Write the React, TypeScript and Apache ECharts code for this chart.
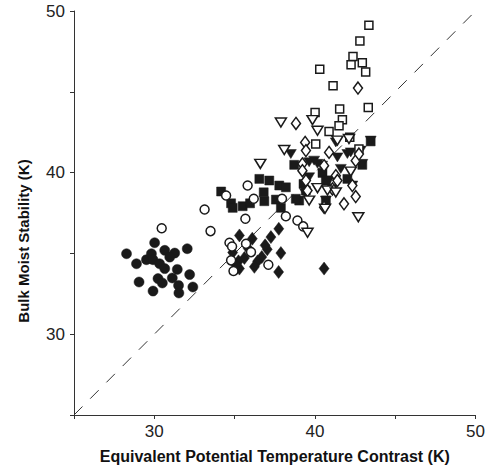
import React, { useEffect, useRef } from "react";
import * as echarts from "echarts";

const filledCircles: [number, number][] = [
  [28.27, 34.98], [30.02, 35.66], [28.89, 34.36], [29.51, 34.61], [29.82, 34.98],
  [29.92, 34.61], [30.65, 35.19], [31.27, 35.02], [30.96, 34.77], [32.05, 35.29],
  [30.33, 34.36], [30.65, 34.06], [31.43, 34.01], [29.05, 33.23], [30.23, 33.44],
  [30.5, 33.17], [31.12, 33.48], [32.2, 33.69], [31.51, 33.02], [31.53, 32.55],
  [32.4, 32.92], [29.92, 32.67],
];

const openCircles: [number, number][] = [
  [30.46, 36.56], [33.13, 37.72], [33.5, 36.38], [34.47, 38.58], [35.81, 39.2],
  [36.19, 38.38], [35.67, 37.14], [34.68, 35.66], [34.84, 35.43], [35.71, 35.6],
  [36.02, 35.08], [34.78, 34.57], [34.93, 33.91], [37.1, 34.3], [38.19, 37.3],
  [38.91, 37.04], [39.27, 36.67], [37.95, 38.38],
];

const filledSquares: [number, number][] = [
  [34.16, 38.83], [34.78, 38.1], [34.88, 37.82], [35.5, 37.92], [35.96, 38.1],
  [36.81, 38.78], [36.85, 38.23], [36.54, 39.61], [37.16, 39.51], [37.57, 38.33],
  [37.88, 37.82], [37.78, 39.2], [38.19, 39.09], [38.71, 40.48], [39.02, 38.27],
  [39.29, 39.3], [39.43, 38.89], [40.47, 39.98], [40.68, 38.27], [42.02, 39.61],
  [42.95, 40.48], [43.47, 41.93], [40.68, 39.51], [38.81, 38.38],
];

const openSquares: [number, number][] = [
  [43.36, 49.12], [42.8, 48.15], [42.37, 47.18], [42.25, 46.67], [42.95, 46.79],
  [43.16, 46.23], [40.3, 46.4], [41.13, 45.37], [43.32, 44.03], [41.54, 43.93],
  [40.01, 43.72], [41.71, 43.27], [41.5, 42.9], [40.88, 42.55], [40.05, 41.77],
  [42.17, 42.18], [42.74, 41.46],
];

const filledDiamonds: [number, number][] = [
  [35.3, 36.11], [36.1, 35.91], [37.26, 36.01], [37.75, 36.52], [37.88, 35.02],
  [37.03, 35.25], [36.69, 34.77], [36.43, 34.51], [36.23, 34.17], [35.61, 34.72],
  [35.24, 34.51], [35.3, 34.06], [35.09, 34.26], [34.88, 35.06], [37.74, 33.85],
  [40.57, 34.06], [36.9, 35.5], [35.85, 35.3],
];

const openDiamonds: [number, number][] = [
  [38.82, 43.04], [39.39, 41.87], [39.44, 41.36], [39.22, 40.54], [39.22, 40.12],
  [40.88, 41.25], [40.57, 40.43], [41.3, 39.81], [41.4, 39.51], [41.09, 38.99],
  [42.33, 39.2], [42.54, 38.52], [41.81, 38.07], [40.57, 37.86], [42.54, 40.74],
  [42.74, 41.15], [39.44, 39.51], [39.54, 38.89], [42.68, 45.23],
];

const filledTriangles: [number, number][] = [
  [38.5, 41.15], [39.64, 40.64], [39.95, 40.74], [40.16, 40.54], [39.64, 39.71],
  [39.39, 38.72], [41.3, 41.87], [41.4, 40.94], [42.02, 41.15], [42.23, 41.25],
  [41.61, 40.23], [42.33, 39.2], [41.09, 38.99], [40.68, 38.27], [43.47, 41.98],
  [42.95, 40.54], [42.85, 41.36], [40.45, 40.43], [40.88, 39.51],
];

const openTriangles: [number, number][] = [
  [37.88, 43.1], [39.85, 43.25], [40.16, 42.59], [38.09, 41.4], [36.6, 40.54],
  [40.16, 39.04], [40.78, 38.89], [41.3, 38.77], [42.23, 40.06], [42.7, 37.24],
  [39.54, 36.28], [39.64, 38.27], [40.63, 37.76], [42.12, 42.08], [41.4, 41.98],
];

const oneToOne: [number, number][] = [[25, 25], [50, 50]];

const INK = "#1a1a1a";

function filled(data: [number, number][], symbol: string, size: number | number[], rotate = 0) {
  return {
    type: "scatter",
    data,
    symbol,
    symbolSize: size,
    symbolRotate: rotate,
    itemStyle: { color: INK, borderColor: INK, borderWidth: 0.5, opacity: 1 },
    z: 3,
  };
}

function hollow(data: [number, number][], symbol: string, size: number | number[], rotate = 0) {
  return {
    type: "scatter",
    data,
    symbol,
    symbolSize: size,
    symbolRotate: rotate,
    itemStyle: { color: "#ffffff", borderColor: INK, borderWidth: 1.5, opacity: 1 },
    z: 4,
  };
}

export default function App() {
  const ref = useRef<HTMLDivElement>(null);
  useEffect(() => {
    if (!ref.current) return;
    const chart = echarts.init(ref.current, null, { renderer: "svg" });
    const font = "Liberation Sans, Arial, Helvetica, sans-serif";
    const axisCommon = {
      min: 25,
      max: 50,
      interval: 5,
      splitLine: { show: false },
      axisLine: { show: true, lineStyle: { color: "#333", width: 1 } },
      axisTick: { show: true, inside: false, length: 4, lineStyle: { color: "#333" } },
      axisLabel: {
        color: "#222",
        fontSize: 17,
        fontFamily: font,
        formatter: (v: number) => (v % 10 === 0 ? String(v) : ""),
      },
      nameLocation: "middle",
      nameTextStyle: { color: "#111", fontWeight: "bold", fontFamily: font },
    };
    chart.setOption({
      animation: false,
      backgroundColor: "#ffffff",
      grid: { left: 74, right: 11, top: 11, bottom: 58, containLabel: false },
      xAxis: {
        ...axisCommon,
        type: "value",
        name: "Equivalent Potential Temperature Contrast (K)",
        nameGap: 33,
        axisLabel: { ...axisCommon.axisLabel, margin: 8 },
        nameTextStyle: { ...axisCommon.nameTextStyle, fontSize: 16 },
      },
      yAxis: {
        ...axisCommon,
        type: "value",
        name: "Bulk Moist Stability (K)",
        nameGap: 43,
        axisLabel: { ...axisCommon.axisLabel, margin: 9 },
        nameTextStyle: { ...axisCommon.nameTextStyle, fontSize: 15, padding: [0, 56, 0, 0] },
      },
      series: [
        {
          type: "line",
          data: oneToOne,
          symbol: "none",
          lineStyle: { color: "#333", width: 1, type: [12, 11] },
          z: 1,
          silent: true,
        },
        filled(filledCircles, "circle", 10),
        filled(filledSquares, "rect", 9),
        filled(filledDiamonds, "diamond", [10, 13]),
        filled(filledTriangles, "triangle", [11, 9], 180),
        hollow(openCircles, "circle", 9),
        hollow(openSquares, "rect", 8),
        hollow(openDiamonds, "diamond", [9, 12]),
        hollow(openTriangles, "triangle", [11, 9], 180),
      ],
    });
    return () => chart.dispose();
  }, []);
  return (
    <div
      ref={ref}
      style={{ position: "absolute", left: 0, top: 0, width: 488, height: 473 }}
    />
  );
}
